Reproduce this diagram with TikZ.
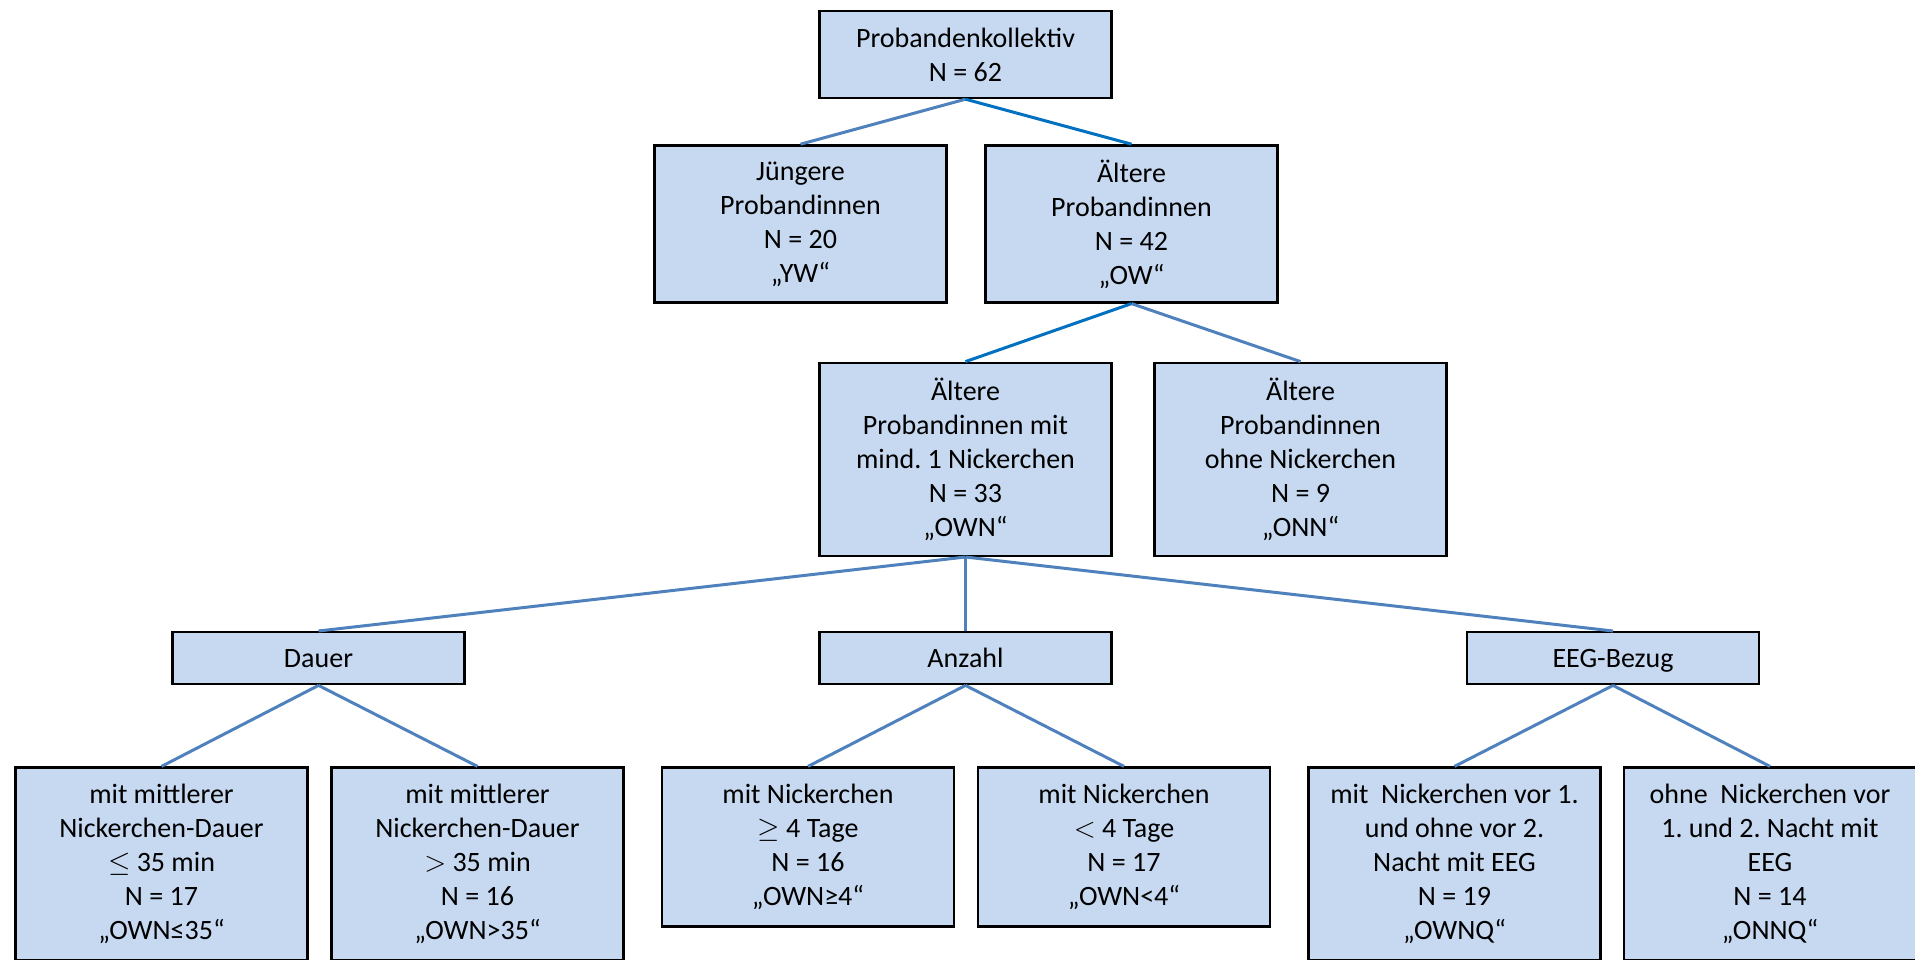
\documentclass[tikz,border=0pt]{standalone}
\usepackage{fontspec}
\setmainfont{Carlito}
\usepackage{xcolor}
\usepackage{tikz}
\usetikzlibrary{positioning}
\definecolor{boxfill}{HTML}{C6D9F1}
\definecolor{linkblue}{HTML}{4F81BD}
\definecolor{linkdark}{HTML}{0070C0}
\tikzset{link/.style = {draw=linkblue, line width=1.5pt}}
\frenchspacing

\begin{document}
\begin{tikzpicture}[node distance=22.5pt, group node/.style={rectangle,draw,line width=1.2pt,fill=boxfill,align=center,minimum width=146pt,inner sep=2pt,font=\fontsize{14}{17}\selectfont}]
                \useasboundingbox (0,0) rectangle (957.5pt,-479.5pt);
                % level 1 and 2
                \node[group node, minimum height=43.5pt] (all) at (482.75pt,-27.25pt) {Probandenkollektiv\\N = 62};
                \node[group node, minimum height=78.5pt] (yw) [below=22.5pt of all, xshift=-82.5pt] {Jüngere\\Probandinnen\\N = 20\\„YW“};
                \node[group node, minimum height=78.5pt] (ow) [below=22.5pt of all, xshift=83pt] {Ältere\\Probandinnen\\N = 42\\„OW“};
                % level 3
                \node[group node, minimum height=96.5pt] (own) [below=29pt of ow, xshift=-83pt] {Ältere\\Probandinnen mit\\mind. 1 Nickerchen\\N = 33\\„OWN“};
                \node[group node, minimum height=96.5pt] (onn) [below=29pt of ow, xshift=84.5pt] {Ältere\\Probandinnen\\ohne Nickerchen\\N = 9\\„ONN“};
                % level 4
                \node[group node, minimum height=26pt, text depth=0pt] (dauer) [below=37pt of own, xshift=-323.5pt] {Dauer};
                \node[group node, minimum height=26pt, text depth=0pt] (anzahl) [below=37pt of own] {Anzahl};
                \node[group node, minimum height=26pt, text depth=0pt] (eeg) [below=37pt of own, xshift=323.75pt] {EEG-Bezug};
                % level 5
                \node[group node, minimum height=96.5pt, anchor=north] (own35a) at ([yshift=-40.5pt, xshift=-78.5pt]dauer.south) {mit mittlerer\\Nickerchen-Dauer\\$\leq$ 35 min\\N = 17\\„OWN≤35“};
                \node[group node, minimum height=96.5pt, anchor=north] (own35b) at ([yshift=-40.5pt, xshift=79.5pt]dauer.south) {mit mittlerer\\Nickerchen-Dauer\\$>$ 35 min\\N = 16\\„OWN>35“};
                \node[group node, minimum height=79.5pt, anchor=north] (own4a) at ([yshift=-40.5pt, xshift=-78.75pt]anzahl.south) {mit Nickerchen\\$\geq$ 4 Tage\\N = 16\\„OWN≥4“};
                \node[group node, minimum height=79.5pt, anchor=north] (own4b) at ([yshift=-40.5pt, xshift=79.25pt]anzahl.south) {mit Nickerchen\\$<$ 4 Tage\\N = 17\\„OWN<4“};
                \node[group node, minimum height=96.5pt, anchor=north] (ownq) at ([yshift=-40.5pt, xshift=-79.25pt]eeg.south) {mit\ \ Nickerchen vor 1.\\und ohne vor 2.\\Nacht mit EEG\\N = 19\\„OWNQ“};
                \node[group node, minimum height=96.5pt, anchor=north] (onnq) at ([yshift=-40.5pt, xshift=78.5pt]eeg.south) {ohne\ \ Nickerchen vor\\1. und 2. Nacht mit\\EEG\\N = 14\\„ONNQ“};

                \path[link]
                    (all.south) edge (yw.north)
                    (all.south) edge[draw=linkdark] (ow.north)
                    (ow.south) edge[draw=linkdark] (own.north)
                    (ow.south) edge (onn.north)
                    (own.south) edge (dauer.north)
                    (own.south) edge (anzahl.north)
                    (own.south) edge (eeg.north)
                    (dauer.south) edge (own35a.north)
                    (dauer.south) edge (own35b.north)
                    (anzahl.south) edge (own4a.north)
                    (anzahl.south) edge (own4b.north)
                    (eeg.south) edge (ownq.north)
                    (eeg.south) edge (onnq.north)
                    ;
            \end{tikzpicture}
\end{document}
